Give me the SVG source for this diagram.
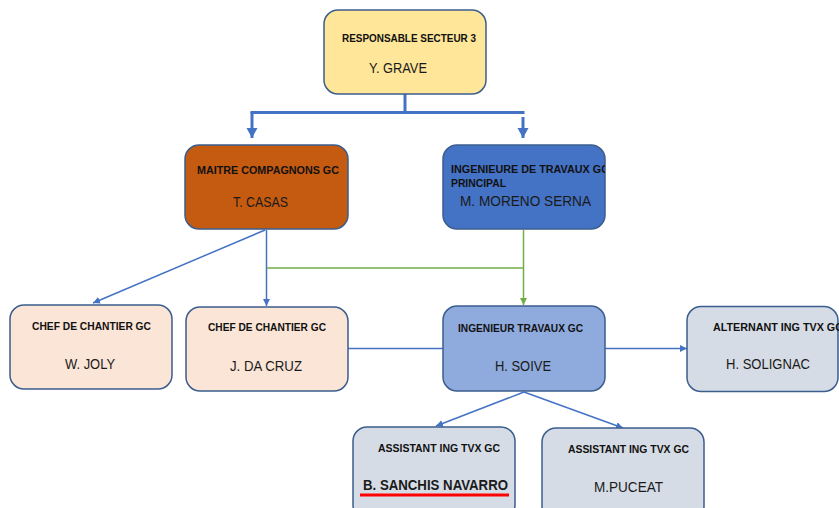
<svg xmlns="http://www.w3.org/2000/svg" width="839" height="508" viewBox="0 0 839 508">
  <style>
    .box { stroke: #3B5E8E; stroke-width: 1.5; }
    .title { font-family: "Liberation Sans", Arial, sans-serif; font-weight: bold; font-size: 10.5px; fill: #111111; }
    .name { font-family: "Liberation Sans", Arial, sans-serif; font-size: 14.5px; fill: #1A1A1A; }
    .thick { stroke: #4472C4; stroke-width: 3; fill: none; }
    .blue { stroke: #4472C4; stroke-width: 1.5; fill: none; }
    .green { stroke: #70AD47; stroke-width: 1.5; fill: none; }
  </style>
  <defs>
    <marker id="bigHead" markerUnits="userSpaceOnUse" markerWidth="12" markerHeight="12" refX="10" refY="6" orient="auto">
      <path d="M0,0.5 L10,6 L0,11.5 z" fill="#4472C4"/>
    </marker>
    <marker id="blueHead" markerUnits="userSpaceOnUse" markerWidth="8" markerHeight="8" refX="7" refY="4" orient="auto">
      <path d="M0,0.5 L7,4 L0,7.5 z" fill="#4472C4"/>
    </marker>
    <marker id="greenHead" markerUnits="userSpaceOnUse" markerWidth="8" markerHeight="8" refX="7" refY="4" orient="auto">
      <path d="M0,0.5 L7,4 L0,7.5 z" fill="#70AD47"/>
    </marker>
    <clipPath id="clipMoreno">
      <rect x="443" y="144" width="162" height="86"/>
    </clipPath>
  </defs>

  <!-- connectors -->
  <g id="connectors">
    <line class="thick" x1="405" y1="94" x2="405" y2="114"/>
    <line class="thick" x1="250.5" y1="112.5" x2="524.5" y2="112.5"/>
    <line class="thick" x1="252" y1="112" x2="252" y2="138" marker-end="url(#bigHead)"/>
    <line class="thick" x1="523" y1="117" x2="523" y2="138" marker-end="url(#bigHead)"/>

    <line class="blue" x1="265" y1="230" x2="93" y2="303" marker-end="url(#blueHead)"/>
    <line class="blue" x1="266.5" y1="230" x2="266.5" y2="306" marker-end="url(#blueHead)"/>
    <line class="green" x1="267" y1="268" x2="523.5" y2="268"/>
    <line class="green" x1="523.5" y1="230" x2="523.5" y2="305" marker-end="url(#greenHead)"/>

    <line class="blue" x1="348" y1="348.5" x2="443" y2="348.5"/>
    <line class="blue" x1="605" y1="348.5" x2="687" y2="348.5" marker-end="url(#blueHead)"/>

    <line class="blue" x1="524" y1="392" x2="436" y2="426" marker-end="url(#blueHead)"/>
    <line class="blue" x1="524" y1="392" x2="623" y2="428" marker-end="url(#blueHead)"/>
  </g>

  <!-- nodes -->
  <g id="grave">
    <rect class="box" x="324" y="10" width="162" height="84" rx="14" fill="#FFE699"/>
    <text class="title" x="342" y="42" textLength="134" lengthAdjust="spacingAndGlyphs">RESPONSABLE SECTEUR 3</text>
    <text class="name" x="369" y="73" textLength="58" lengthAdjust="spacingAndGlyphs">Y. GRAVE</text>
  </g>

  <g id="casas">
    <rect class="box" x="185" y="145" width="163" height="84" rx="14" fill="#C55A11"/>
    <text class="title" x="197" y="174" textLength="142" lengthAdjust="spacingAndGlyphs">MAITRE COMPAGNONS GC</text>
    <text class="name" x="233" y="207" textLength="55" lengthAdjust="spacingAndGlyphs">T. CASAS</text>
  </g>

  <g id="moreno">
    <rect class="box" x="443" y="145" width="162" height="84" rx="14" fill="#4472C4"/>
    <g clip-path="url(#clipMoreno)">
      <text class="title" x="451" y="173" textLength="158" lengthAdjust="spacingAndGlyphs">INGENIEURE DE TRAVAUX GC</text>
    </g>
    <text class="title" x="451" y="187" textLength="55" lengthAdjust="spacingAndGlyphs">PRINCIPAL</text>
    <text class="name" x="460" y="206" font-size="15.5" textLength="131" lengthAdjust="spacingAndGlyphs">M. MORENO SERNA</text>
  </g>

  <g id="joly">
    <rect class="box" x="10" y="305" width="162" height="84" rx="14" fill="#FBE5D6"/>
    <text class="title" x="32" y="330" textLength="119" lengthAdjust="spacingAndGlyphs">CHEF DE CHANTIER GC</text>
    <text class="name" x="65" y="369" textLength="50" lengthAdjust="spacingAndGlyphs">W. JOLY</text>
  </g>

  <g id="dacruz">
    <rect class="box" x="186" y="307" width="162" height="84" rx="14" fill="#FBE5D6"/>
    <text class="title" x="208" y="331" textLength="118" lengthAdjust="spacingAndGlyphs">CHEF DE CHANTIER GC</text>
    <text class="name" x="230" y="371" textLength="72" lengthAdjust="spacingAndGlyphs">J. DA CRUZ</text>
  </g>

  <g id="soive">
    <rect class="box" x="443" y="306" width="162" height="85" rx="14" fill="#8FAADC"/>
    <text class="title" x="458" y="332" textLength="125" lengthAdjust="spacingAndGlyphs">INGENIEUR TRAVAUX GC</text>
    <text class="name" x="495" y="371" textLength="56" lengthAdjust="spacingAndGlyphs">H. SOIVE</text>
  </g>

  <g id="solignac">
    <rect class="box" x="687" y="306.5" width="151" height="85" rx="14" fill="#D6DCE5"/>
    <text class="title" x="713" y="331" textLength="130" lengthAdjust="spacingAndGlyphs">ALTERNANT ING TVX GC</text>
    <text class="name" x="726" y="369" textLength="84" lengthAdjust="spacingAndGlyphs">H. SOLIGNAC</text>
  </g>

  <g id="sanchis">
    <rect class="box" x="353" y="427" width="162" height="92" rx="14" fill="#D6DCE5"/>
    <text class="title" x="378" y="452" textLength="122" lengthAdjust="spacingAndGlyphs">ASSISTANT ING TVX GC</text>
    <text class="name" x="363" y="490" font-weight="bold" textLength="145" lengthAdjust="spacingAndGlyphs">B. SANCHIS NAVARRO</text>
    <line x1="360" y1="495" x2="509" y2="495" stroke="#FF0000" stroke-width="3"/>
  </g>

  <g id="puceat">
    <rect class="box" x="542" y="428" width="162" height="92" rx="14" fill="#D6DCE5"/>
    <text class="title" x="568" y="453" textLength="121" lengthAdjust="spacingAndGlyphs">ASSISTANT ING TVX GC</text>
    <text class="name" x="594" y="492" textLength="69" lengthAdjust="spacingAndGlyphs">M.PUCEAT</text>
  </g>
</svg>
